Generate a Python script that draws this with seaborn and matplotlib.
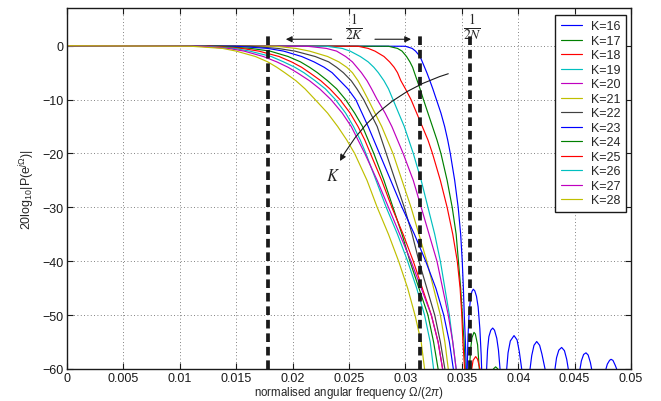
import numpy as np
import pandas as pd
import matplotlib
matplotlib.use("Agg")
import matplotlib.pyplot as plt
import seaborn as sns

# ---------------- data ----------------
# attenuation levels (dB) at which each curve's frequency was read
levels_db = [0, -0.1, -0.5, -1, -2, -3, -4, -5, -6.5, -8, -10, -12.5, -15, -17.5,
             -20, -25, -30, -35, -40, -45, -50, -55, -60]

f_K16 = [0, .0300, .0306, .0309, .0313, .0315, .0317, .0319, .03217, .03243, .03275, .03315, .03348, .03375,
         .03398, .03437, .03468, .03490, .03504, .03514, .03522, .03532, .0354]
f_K17 = [0, .0285, .0293, .0297, .0301, .0304, .03064, .0308, .03105, .0313, .0316, .0320, .0324, .0328,
         .03315, .0337, .03415, .0345, .0347, .0349, .03505, .0352, .0353]
f_K18 = [0, .0258, .0267, .0273, .0281, .0286, .0290, .0293, .0296, .0300, .0305, .0310, .0315, .0320,
         .0324, .0331, .0337, .0342, .0346, .03485, .0350, .0351, .03525]
f_K19 = [0, .0230, .0244, .0251, .0260, .0267, .0272, .0276, .0281, .0285, .0289, .0294, .0299, .0303,
         .0307, .0314, .0320, .0326, .0331, .0335, .0339, .0342, .0345]
f_K20 = [0, .0213, .0230, .0239, .0247, .0253, .0257, .0261, .0266, .0270, .0275, .0282, .0288, .0293,
         .0298, .0307, .0314, .0321, .0328, .0333, .0338, .0342, .0345]
f_K21 = [0, .0185, .0203, .0215, .0231, .0241, .0248, .0253, .0258, .0262, .0267, .0273, .0279, .0284,
         .0289, .0297, .0305, .0312, .0319, .0325, .0331, .0335, .0338]
f_K22 = [0, .0162, .0187, .0202, .0220, .0232, .0239, .0245, .0252, .0257, .0263, .0269, .0275, .0279,
         .0283, .0291, .0299, .0306, .0312, .0319, .0326, .0331, .0335]
f_K23 = [0, .0150, .0178, .0192, .0208, .0219, .0228, .0235, .0242, .0249, .0256, .02615, .0267, .0272,
         .0277, .0287, .0297, .0308, .0318, .0327, .0334, .0339, .03425]
f_K24 = [0, .0135, .0163, .0180, .0196, .0207, .0215, .0222, .0231, .0239, .0247, .0255, .0262, .0267,
         .0272, .0281, .0289, .0297, .0304, .0312, .0320, .0325, .0329]
f_K25 = [0, .0128, .0155, .0170, .0188, .0199, .0208, .0215, .0225, .0233, .0242, .0251, .0258, .0264,
         .0269, .0279, .0288, .0298, .0307, .0315, .0323, .0329, .0333]
f_K26 = [0, .0122, .0148, .0162, .0181, .0192, .0202, .0210, .0220, .0229, .0238, .0247, .0254, .0260,
         .0265, .0274, .0283, .0293, .0302, .0310, .0317, .0322, .0325]
f_K27 = [0, .0118, .0143, .0157, .0174, .0186, .0196, .0204, .0215, .0224, .0234, .0244, .0252, .0258,
         .0264, .0275, .0285, .0295, .0305, .0314, .0323, .0329, .0333]
f_K28 = [0, .0110, .0138, .0150, .0167, .0178, .0186, .0193, .0203, .0211, .0220, .0231, .0240, .0248,
         .0255, .0266, .0275, .0285, .0294, .0302, .03085, .0314, .0317]

# side lobes above -60 dB (K=16, 17, 18); -90 marks the nulls between lobes
side16_f = [.03548, .03555, .03565, .03578, .0359, .03602, .03615, .0363, .03645, .0366, .03672, .03676, .0370,
            .0372, .03728, .0374, .03757, .03774, .0379, .0381, .03825, .03839, .0387,
            .03898, .0391, .0393, .03963, .0399, .0401, .04031, .0407,
            .04105, .0412, .0414, .04164, .0419, .0421, .04238, .0428,
            .04326, .0434, .0436, .04385, .0441, .0443, .04444, .0450,
            .04548, .0456, .0458, .04601, .0462, .0464, .04651, .0471,
            .04778, .0479, .0481, .04823, .0484, .0486, .04873]
side16_db = [-60, -54, -49.5, -46.8, -45.6, -45.2, -45.5, -46.5, -48.5, -52.5, -57.5, -60, -90,
             -60, -56.5, -54, -52.8, -52.4, -52.8, -54.3, -56.5, -60, -90,
             -60, -57, -54.8, -53.8, -54.6, -56.8, -60, -90,
             -60, -57.5, -55.6, -54.9, -55.6, -57.2, -60, -90,
             -60, -57.9, -56.5, -56.0, -56.6, -58.2, -60, -90,
             -60, -58.5, -57.3, -57.0, -57.4, -58.8, -60, -90,
             -60, -59.1, -58.4, -58.2, -58.4, -59.3, -60]
side17_f = [.03567, .0358, .0359, .03608, .0362, .0364, .03655, .0372, .0378, .0380, .0382]
side17_db = [-60, -56, -54.2, -53.2, -53.5, -55.5, -60, -90, -60, -59.6, -60]
side18_f = [.03588, .0360, .03623, .0364, .03661]
side18_db = [-60, -58.4, -57.7, -58.2, -60]

K_values = [16, 17, 18, 19, 20, 21, 22, 23, 24, 25, 26, 27, 28]
K_freqs = [f_K16, f_K17, f_K18, f_K19, f_K20, f_K21, f_K22, f_K23, f_K24, f_K25, f_K26, f_K27, f_K28]
N_value = 14

x_ticks = [0, 0.005, 0.01, 0.015, 0.02, 0.025, 0.03, 0.035, 0.04, 0.045, 0.05]
x_ticklabels = ["0", "0.005", "0.01", "0.015", "0.02", "0.025", "0.03", "0.035", "0.04", "0.045", "0.05"]
y_ticks = [0, -10, -20, -30, -40, -50, -60]

# MATLAB-style default colour order
matlab_colors = [(0, 0, 1), (0, 0.5, 0), (1, 0, 0), (0, 0.75, 0.75),
                 (0.75, 0, 0.75), (0.75, 0.75, 0), (0.25, 0.25, 0.25)]
colors = [matlab_colors[i % 7] for i in range(len(K_values))]

# ---------------- build long table ----------------
rows = []
for k, fl in zip(K_values, K_freqs):
    for f, d in zip(fl, levels_db):
        rows.append({"freq": f, "db": d, "K": f"K={k}"})
df = pd.DataFrame(rows)

sns.set_theme(style="ticks")
plt.rcParams['font.family'] = ['Liberation Sans', 'DejaVu Sans']
plt.rcParams['mathtext.fontset'] = 'custom'
plt.rcParams['mathtext.rm'] = 'Liberation Sans'
plt.rcParams['mathtext.it'] = 'Liberation Sans:italic'
plt.rcParams['mathtext.bf'] = 'Liberation Sans:bold'

fig = plt.figure(figsize=(6.61, 4.02), dpi=100)
ax = fig.add_axes([67 / 661, 1 - 370 / 402, 564 / 661, 361 / 402])

sns.lineplot(data=df, x="freq", y="db", hue="K", palette=colors,
             estimator=None, sort=False, lw=0.85, ax=ax, legend="full")
for sf, sd, c in [(side16_f, side16_db, colors[0]),
                  (side17_f, side17_db, colors[1]),
                  (side18_f, side18_db, colors[2])]:
    sns.lineplot(x=sf, y=sd, color=c, estimator=None, sort=False, lw=0.85,
                 ax=ax, legend=False)

# dashed markers at 1/(2K_max), 1/(2K_min), 1/(2N)
ax.vlines([1 / (2 * max(K_values)), 1 / (2 * min(K_values)), 1 / (2 * N_value)],
          -60, 2, colors="k", linestyles=(0, (2.3, 1.3)), lw=2.7, zorder=5)

arrow_kw = dict(arrowstyle="-|>", color="k", lw=0.8, mutation_scale=9,
                shrinkA=0, shrinkB=0)
ax.annotate("", xy=(0.0194, 1.2), xytext=(0.02346, 1.2), arrowprops=arrow_kw)
ax.annotate("", xy=(0.0305, 1.2), xytext=(0.0273, 1.2), arrowprops=arrow_kw)
ax.text(0.02544, 3.6, r"$\frac{1}{2K}$", ha="center", va="center",
        fontsize=14, math_fontfamily="stix")
ax.text(0.03597, 3.6, r"$\frac{1}{2N}$", ha="center", va="center",
        fontsize=14, math_fontfamily="stix")
ax.annotate("", xy=(0.0242, -21.4), xytext=(0.0338, -5.2),
            arrowprops=dict(arrowstyle="-|>", color="k", lw=0.8, mutation_scale=9,
                            connectionstyle="arc3,rad=0.2", shrinkA=0, shrinkB=0))
ax.text(0.0236, -24.0, r"$K$", ha="center", va="center", fontsize=12,
        math_fontfamily="stix")

ax.set_xlim(0, 0.05)
ax.set_ylim(-60, 7)
ax.set_xticks(x_ticks)
ax.set_xticklabels(x_ticklabels)
ax.set_yticks(y_ticks)
ax.set_yticklabels([str(t).replace("-", "\u2212") for t in y_ticks])
ax.tick_params(direction="in", length=4, width=0.8, top=True, right=True,
               labelsize=9, pad=2.5, colors="k")
for s in ax.spines.values():
    s.set_visible(True)
    s.set_linewidth(1.0)
    s.set_color("k")
ax.grid(True, linestyle=(0, (1, 3)), color="0.35", lw=0.6)

ax.set_xlabel(r"normalised angular frequency $\Omega/(2\pi)$", fontsize=8.3, labelpad=0)
ax.set_ylabel(r"20log$_{10}$|P(e$^{j\Omega}$)|", fontsize=9, labelpad=4)

handles, labels = ax.get_legend_handles_labels()
leg = ax.legend(handles, labels, loc="upper right", bbox_to_anchor=(0.991, 0.981),
                borderaxespad=0, fontsize=9, labelspacing=0.2, handlelength=1.7,
                handletextpad=0.7, borderpad=0.45, fancybox=False, framealpha=1,
                edgecolor="k")
leg.get_frame().set_linewidth(1.0)
leg.set_title(None)

fig.savefig("out.png", dpi=100)
